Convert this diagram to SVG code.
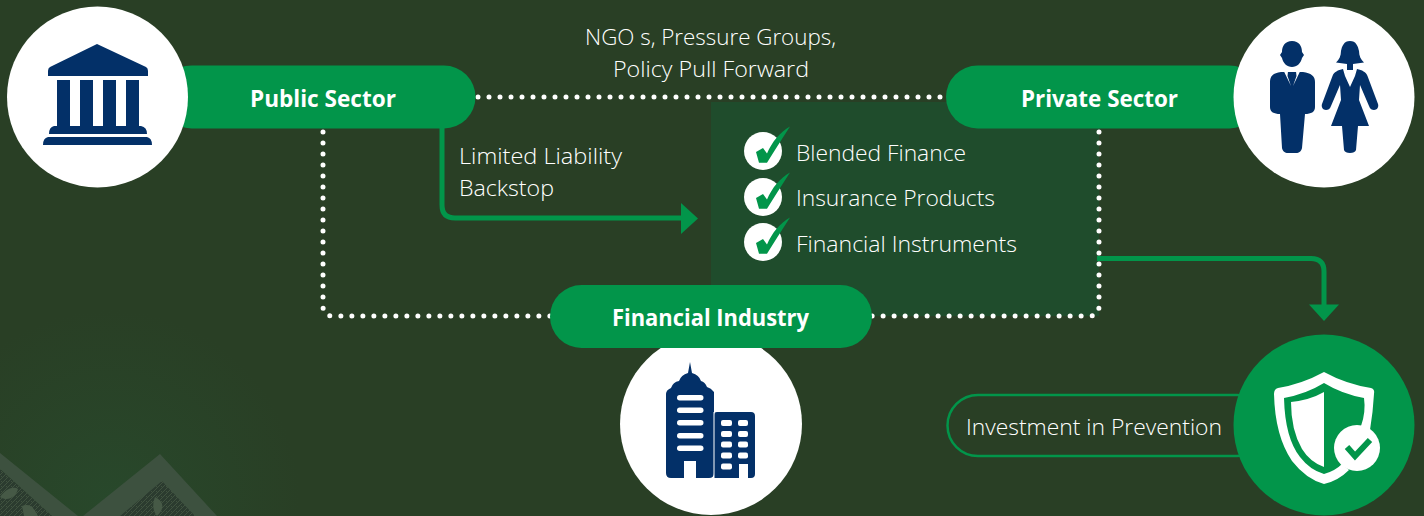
<svg xmlns="http://www.w3.org/2000/svg" width="1424" height="516" viewBox="0 0 1424 516">
<style>
.lt{font-family:"Open Sans","Noto Sans",sans-serif;font-size:22.5px;fill:#fff;font-weight:300}
.bd{font-family:"Open Sans","Noto Sans",sans-serif;font-size:23.5px;fill:#fff;font-weight:700}
.pill{fill:#02954a}
.wh{fill:#fff}
.navy{fill:#033068}
.dots{fill:none;stroke:#fff;stroke-width:5;stroke-linecap:round;stroke-linejoin:round;stroke-dasharray:0 11}
.flow{fill:none;stroke:#02954a;stroke-width:5}
.head{fill:#02954a}
</style>
<defs>
<radialGradient id="bgg" gradientUnits="userSpaceOnUse" cx="110" cy="500" r="190">
<stop offset="0" stop-color="#28482b"/><stop offset="1" stop-color="#293f25"/>
</radialGradient>
<pattern id="tex" width="5" height="5" patternUnits="userSpaceOnUse">
<rect width="5" height="5" fill="#2b3b2f"/><path d="M0 5L5 0M1 1L3 3" stroke="#40523f" stroke-width="1"/>
</pattern>
<g id="tick">
<circle r="19" class="wh"/>
<path fill="#02954a" d="M-7 1L0-3L4 2.500C9-9 17-19 27-24.500Q17-9 4 11.700H-4Z"/>
</g>
</defs>
<rect width="1424" height="516" fill="url(#bgg)"/>
<g id="ornament">
<path fill="#3d513f" d="M0 453L78 516H52L0 469ZM160 454L217 516H83Z"/>
<path fill="url(#tex)" d="M0 469L52 516H0ZM162 481L195 516H120Z"/>
<path fill="#465946" d="M0 497C6 488 14 486 18 489C16 497 8 502 0 497ZM155 497C152 505 153 511 157 516C164 510 165 502 155 497ZM22 506C30 503 34 508 38 516H24Z"/>
</g>
<rect id="panel" x="711" y="102" width="388" height="214" fill="#1f4c2c"/>
<g id="connectors">
<path class="dots" d="M478 97H946"/>
<path class="dots" d="M323 132V306Q323 316 333 316H550"/>
<path class="dots" d="M1099 132V306Q1099 316 1089 316H872"/>
<path class="flow" d="M442 128V205Q442 218 455 218H684"/>
<path class="head" d="M681 203L698 218.500L681 234Z"/>
<path class="flow" d="M1097 258.500H1311Q1324 258.500 1324 271.500V306"/>
<path class="head" d="M1309 304.500H1339L1324 321Z"/>
</g>
<g id="public-sector">
<rect class="pill" x="160" y="65.500" width="315.500" height="63" rx="31.500"/>
<circle class="wh" cx="97.500" cy="97" r="90.500"/>
<path class="navy" d="M97 44L146 67Q148 68 148 71V76H48V71Q48 68 50 67ZM57 80H70V127H57ZM80 80H93V127H80ZM103 80H116V127H103ZM126 80H139V127H126ZM54 126H141Q147 127 147 134H49Q49 127 54 126ZM48 137H147Q152 138 152 145H43Q43 138 48 137Z"/>
<text class="bd" x="250" y="107" textLength="146" lengthAdjust="spacingAndGlyphs">Public Sector</text>
</g>
<g id="private-sector">
<rect class="pill" x="946" y="65.500" width="315" height="63" rx="31.500"/>
<circle class="wh" cx="1324" cy="97" r="90.500"/>
<path class="navy" d="M1292 41C1299 41 1302 46 1302 52L1304 55L1302 58C1301 63 1297 67 1292 67C1287 67 1283 63 1282 58L1280 55L1282 52C1282 46 1285 41 1292 41ZM1281 72L1303 72C1311 73 1315 76 1315 82V107C1315 112 1311 114 1305 114L1302 148C1301.500 151 1299 153 1296 153H1288C1285 153 1282.500 151 1282 148L1280 114C1274 114 1270 112 1270 107V82C1270 76 1273 73 1281 72Z"/>
<path class="wh" d="M1284 71.500H1288L1287.500 76L1291 86ZM1300 71.500H1296L1296.500 76L1293 86Z"/>
<path class="navy" d="M1350 41C1356 41 1358 46 1359 51C1359 56 1361 60 1364 62.500L1353 64V70H1347V64L1336 62.500C1339 60 1341 56 1341 51C1342 46 1344 41 1350 41Z"/>
<path class="navy" d="M1343 69L1345 76L1350 87L1355 76L1357 69C1362 70 1366 72 1367.500 76L1378 104C1379 107 1377 110 1374 110C1372 110 1370 109 1369 106L1360 85L1359 100L1369 126H1358L1356 150C1355.500 152 1353 153 1350 153C1347 153 1344.500 152 1344 150L1342 126H1331L1341 100L1340 85L1331 106C1330 109 1328 110 1326 110C1323 110 1321 107 1322 104L1332.500 76C1334 72 1338 70 1343 69Z"/>
<text class="bd" x="1021" y="107" textLength="157" lengthAdjust="spacingAndGlyphs">Private Sector</text>
</g>
<g id="financial-industry">
<circle class="wh" cx="711" cy="424" r="91"/>
<rect class="pill" x="550" y="285" width="322" height="63" rx="31.500"/>
<path class="navy" d="M690 362L692 373Q699 375 701 381Q705 382 707 387Q711 388 714 392V473Q714 478 709 478H696V461H684V478H671Q666 478 666 473V394Q666 390 671 388Q673 382 679 381Q681 375 688 373Z"/>
<path class="navy" d="M717 412H751Q755 412 755 416V474Q755 478 751 478H748V464H739V478H714V415Q714 412 717 412Z"/>
<g fill="#fff">
<rect x="677" y="395" width="26.500" height="5.500" rx="2.700"/><rect x="677" y="407.500" width="26.500" height="5.500" rx="2.700"/><rect x="677" y="420" width="26.500" height="5.500" rx="2.700"/><rect x="677" y="433" width="26.500" height="5.500" rx="2.700"/><rect x="677" y="445.500" width="26.500" height="5.500" rx="2.700"/>
<rect x="721" y="420" width="11" height="6" rx="2"/><rect x="738" y="420" width="10" height="6" rx="2"/>
<rect x="721" y="431" width="11" height="6" rx="2"/><rect x="738" y="431" width="10" height="6" rx="2"/>
<rect x="721" y="441.500" width="11" height="6" rx="2"/><rect x="738" y="441.500" width="10" height="6" rx="2"/>
<rect x="721" y="452.500" width="11" height="6" rx="2"/><rect x="738" y="452.500" width="10" height="6" rx="2"/>
<rect x="721" y="463.500" width="11" height="6" rx="2"/>
</g>
<path stroke="#fff" stroke-width="1" d="M714 412V478"/>
<text class="bd" x="612" y="326" textLength="197" lengthAdjust="spacingAndGlyphs">Financial Industry</text>
</g>
<g id="investment">
<rect x="947.500" y="395" width="320" height="61" rx="30.500" fill="none" stroke="#02954a" stroke-width="2.500"/>
<circle class="pill" cx="1324" cy="425" r="90.500"/>
<path class="wh" fill-rule="evenodd" d="M1324 372Q1346 384 1371 388Q1375 389 1374 394Q1373 412 1370 430L1361 426Q1366 412 1364 398Q1342 394 1324 383Q1306 394 1284 398Q1285 438 1300 457Q1310 470 1324 474Q1335 471 1342 464L1349 470Q1338 481 1324 484Q1306 479 1292 461Q1275 436 1274 394Q1274 389 1278 388Q1302 384 1324 372Z"/>
<path class="wh" d="M1324 392V467Q1310 462 1302 449Q1291 430 1291 402Q1310 400 1324 392Z"/>
<circle class="wh" cx="1357" cy="448" r="23"/>
<path fill="none" stroke="#02954a" stroke-width="6" d="M1347 447L1355 456L1370 440"/>
</g>
<g id="instruments">
<use href="#tick" x="763" y="151"/>
<use href="#tick" x="763" y="197"/>
<use href="#tick" x="763" y="242"/>
<text class="lt" x="796" y="161" textLength="170" lengthAdjust="spacingAndGlyphs">Blended Finance</text>
<text class="lt" x="796" y="206" textLength="199" lengthAdjust="spacingAndGlyphs">Insurance Products</text>
<text class="lt" x="796" y="252" textLength="221" lengthAdjust="spacingAndGlyphs">Financial Instruments</text>
</g>
<g id="labels">
<text class="lt" x="585" y="45" textLength="251" lengthAdjust="spacingAndGlyphs">NGO s, Pressure Groups,</text>
<text class="lt" x="613" y="77" textLength="196" lengthAdjust="spacingAndGlyphs">Policy Pull Forward</text>
<text class="lt" x="459" y="164" textLength="163" lengthAdjust="spacingAndGlyphs">Limited Liability</text>
<text class="lt" x="459" y="196" textLength="95" lengthAdjust="spacingAndGlyphs">Backstop</text>
<text class="lt" x="966" y="435" textLength="256" lengthAdjust="spacingAndGlyphs">Investment in Prevention</text>
</g>
</svg>
